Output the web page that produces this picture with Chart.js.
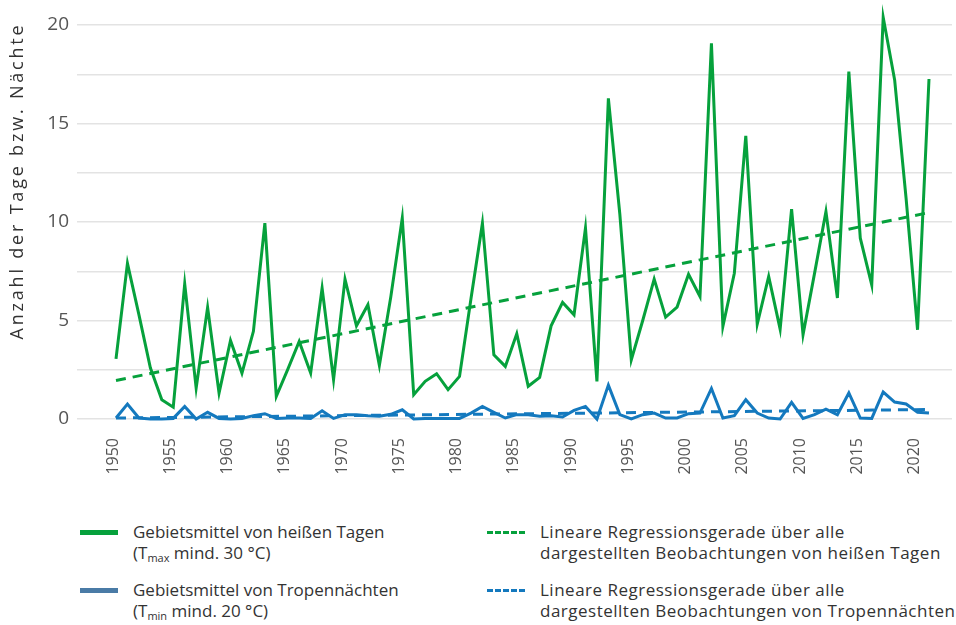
<!DOCTYPE html>
<html>
<head>
<meta charset="utf-8">
<script src="https://cdn.jsdelivr.net/npm/chart.js@4.4.1/dist/chart.umd.min.js"></script>
<style>
  html, body { margin: 0; padding: 0; background: #fff; }
  body { width: 956px; height: 625px; position: relative; overflow: hidden; font-family: "Open Sans", "Noto Sans", sans-serif; }
  #wrap { position: absolute; left: 0; top: 0; width: 956px; height: 500px; }
  .leg { position: absolute; font-size: 17px; line-height: 21px; color: #333; white-space: nowrap; }
  .leg.r { letter-spacing: 0.5px; }
  .sw { position: absolute; width: 38px; height: 0; }
  sub { font-size: 11px; vertical-align: -3px; line-height: 0; letter-spacing: 0; }
</style>
</head>
<body>
<div id="wrap"><canvas id="c" width="956" height="500"></canvas></div>

<div class="sw" style="left:80px; top:530px; border-top:5px solid #06a13c;"></div>
<div class="leg" style="left:133px; top:521px;">Gebietsmittel von heißen Tagen<br>(T<sub>max</sub> mind. 30 °C)</div>

<div class="sw" style="left:80px; top:588px; border-top:5px solid #4a7ba6;"></div>
<div class="leg" style="left:133px; top:579px;">Gebietsmittel von Tropennächten<br>(T<sub>min</sub> mind. 20 °C)</div>

<div class="sw" style="left:487px; top:531px; border-top:3px dashed #06a13c;"></div>
<div class="leg r" style="left:540px; top:521px;">Lineare Regressionsgerade über alle<br>dargestellten Beobachtungen von heißen Tagen</div>

<div class="sw" style="left:487px; top:589px; border-top:3px dashed #1479be;"></div>
<div class="leg r" style="left:540px; top:579px;">Lineare Regressionsgerade über alle<br>dargestellten Beobachtungen von Tropennächten</div>

<script>
const years = [1950,1951,1952,1953,1954,1955,1956,1957,1958,1959,
  1960,1961,1962,1963,1964,1965,1966,1967,1968,1969,
  1970,1971,1972,1973,1974,1975,1976,1977,1978,1979,
  1980,1981,1982,1983,1984,1985,1986,1987,1988,1989,
  1990,1991,1992,1993,1994,1995,1996,1997,1998,1999,
  2000,2001,2002,2003,2004,2005,2006,2007,2008,2009,
  2010,2011,2012,2013,2014,2015,2016,2017,2018,2019,
  2020,2021];

const hotDays = [3.05,7.9,5.3,2.6,0.98,0.6,6.86,1.57,5.66,1.32,
  3.99,2.33,4.45,9.94,1.15,2.52,3.94,2.33,6.64,2.0,
  7.1,4.73,5.8,2.72,6.2,10.2,1.23,1.91,2.3,1.49,
  2.16,6.1,9.94,3.26,2.67,4.33,1.66,2.11,4.73,5.92,
  5.29,9.69,1.91,16.28,10.4,3.0,5.0,7.1,5.17,5.68,
  7.35,6.22,19.07,4.7,7.4,14.37,4.82,7.24,4.56,10.65,
  4.28,7.38,10.53,6.14,17.63,9.18,6.81,20.39,17.21,11.2,
  4.53,17.26];

const tropicalNights = [0.05,0.76,0.05,0.0,0.0,0.03,0.64,0.0,0.34,0.03,
  0.0,0.03,0.17,0.27,0.03,0.05,0.05,0.03,0.42,0.03,
  0.22,0.22,0.17,0.14,0.24,0.47,0.0,0.02,0.02,0.02,
  0.03,0.3,0.64,0.34,0.05,0.22,0.22,0.14,0.17,0.1,
  0.44,0.64,0.0,1.72,0.22,0.0,0.22,0.3,0.05,0.05,
  0.27,0.3,1.55,0.05,0.17,0.98,0.3,0.05,0.0,0.84,
  0.03,0.22,0.5,0.22,1.32,0.05,0.03,1.37,0.86,0.76,
  0.34,0.3];

const trendYears = [1950, 2021];
const hotTrend = [1.95, 10.48];
const nightTrend = [0.05, 0.48];

const yTicks = [0, 5, 10, 15, 20];
const xTickYears = [1950,1955,1960,1965,1970,1975,1980,1985,1990,1995,2000,2005,2010,2015,2020];
const yTitle = 'Anzahl der Tage bzw. Nächte';

const GREEN = '#06a13c';
const BLUE = '#1479be';

const pts = (xs, ys) => xs.map((x, i) => ({ x: x, y: ys[i] }));

const yTitlePlugin = {
  id: 'yTitle',
  afterDraw(chart) {
    const ctx = chart.ctx;
    ctx.save();
    ctx.translate(18, 181);
    ctx.rotate(-Math.PI / 2);
    ctx.font = '18px "Open Sans", sans-serif';
    if ('letterSpacing' in ctx) ctx.letterSpacing = '2.8px';
    ctx.fillStyle = '#333';
    ctx.textAlign = 'center';
    ctx.textBaseline = 'middle';
    ctx.fillText(yTitle, 0, 0);
    ctx.restore();
  }
};

new Chart(document.getElementById('c'), {
  type: 'line',
  data: {
    datasets: [
      { label: 'Lineare Regressionsgerade über alle dargestellten Beobachtungen von heißen Tagen',
        data: pts(trendYears, hotTrend), borderColor: GREEN, borderWidth: 3, borderDash: [10, 7],
        pointRadius: 0, tension: 0, fill: false, clip: false },
      { label: 'Lineare Regressionsgerade über alle dargestellten Beobachtungen von Tropennächten',
        data: pts(trendYears, nightTrend), borderColor: BLUE, borderWidth: 3, borderDash: [10, 7],
        pointRadius: 0, tension: 0, fill: false, clip: false },
      { label: 'Gebietsmittel von Tropennächten (Tmin mind. 20 °C)',
        data: pts(years, tropicalNights), borderColor: BLUE, borderWidth: 3,
        pointRadius: 0, tension: 0, fill: false, clip: false },
      { label: 'Gebietsmittel von heißen Tagen (Tmax mind. 30 °C)',
        data: pts(years, hotDays), borderColor: GREEN, borderWidth: 3,
        pointRadius: 0, tension: 0, fill: false, clip: false }
    ]
  },
  plugins: [yTitlePlugin],
  options: {
    responsive: false,
    animation: false,
    devicePixelRatio: 1,
    layout: { padding: { top: 25, right: 4, left: 0, bottom: 0 } },
    plugins: { legend: { display: false }, tooltip: { enabled: false } },
    scales: {
      x: {
        type: 'linear',
        min: 1946.594,
        max: 2023.009,
        border: { display: false },
        grid: { display: false, drawTicks: false },
        afterFit: (s) => { s.height = 81; },
        afterBuildTicks: (s) => { s.ticks = xTickYears.map(v => ({ value: v })); },
        ticks: {
          autoSkip: false,
          minRotation: 90, maxRotation: 90,
          padding: 19,
          labelOffset: -3,
          color: '#555',
          font: { family: '"Open Sans", sans-serif', size: 16 },
          callback: (v) => String(v)
        }
      },
      y: {
        min: 0, max: 20,
        border: { display: false },
        grid: { color: '#e3e3e3', lineWidth: 1.5, drawTicks: false },
        afterFit: (s) => { s.width = 77; },
        ticks: {
          stepSize: 2.5,
          padding: 8,
          color: '#555',
          font: { family: '"Open Sans", sans-serif', size: 19 },
          callback: (v) => (yTicks.includes(v) ? String(v) : '')
        }
      }
    }
  }
});
</script>
</body>
</html>
